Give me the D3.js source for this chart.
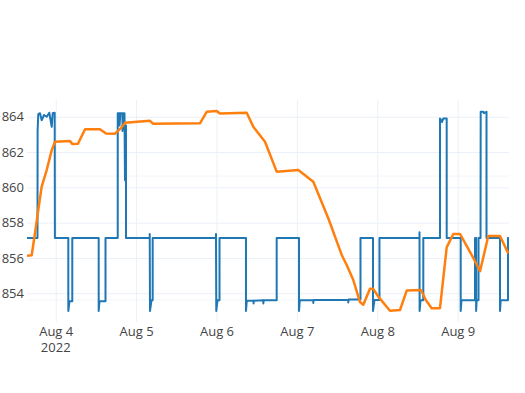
<!DOCTYPE html>
<html lang="en">
<head>
<meta charset="utf-8">
<title>Level chart</title>
<script src="https://d3js.org/d3.v7.min.js"></script>
<style>
body { margin: 0; background: #fff; }
.axis text, .yearlabel { font-family: "Open Sans", sans-serif; font-size: 13px; fill: #444; }
</style>
</head>
<body>
<svg id="chart" width="525" height="393"></svg>
<script>
// blue series: step-like readings (time, value)
var blueTimes = [
  "2022-08-03 15:26", "2022-08-03 18:34", "2022-08-03 18:36", "2022-08-03 18:48",
  "2022-08-03 19:19", "2022-08-03 19:49", "2022-08-03 20:31", "2022-08-03 21:19",
  "2022-08-03 22:05", "2022-08-03 22:49", "2022-08-03 23:06", "2022-08-03 23:42",
  "2022-08-03 23:46", "2022-08-04 03:46", "2022-08-04 03:46", "2022-08-04 04:07",
  "2022-08-04 04:57", "2022-08-04 04:57", "2022-08-04 12:50", "2022-08-04 12:50",
  "2022-08-04 13:04", "2022-08-04 14:52", "2022-08-04 14:52", "2022-08-04 18:31",
  "2022-08-04 18:31", "2022-08-04 19:03", "2022-08-04 19:03", "2022-08-04 19:20",
  "2022-08-04 19:56", "2022-08-04 19:56", "2022-08-04 20:14", "2022-08-04 20:32",
  "2022-08-04 20:41", "2022-08-04 20:45", "2022-08-04 20:59", "2022-08-04 20:59",
  "2022-08-05 04:04", "2022-08-05 04:04", "2022-08-05 04:09", "2022-08-05 04:36",
  "2022-08-05 04:57", "2022-08-05 04:57", "2022-08-05 23:51", "2022-08-05 23:51",
  "2022-08-05 23:56", "2022-08-06 00:18", "2022-08-06 00:54", "2022-08-06 00:54",
  "2022-08-06 08:48", "2022-08-06 08:48", "2022-08-06 09:03", "2022-08-06 11:04",
  "2022-08-06 11:04", "2022-08-06 11:10", "2022-08-06 13:59", "2022-08-06 13:59",
  "2022-08-06 14:05", "2022-08-06 17:58", "2022-08-06 17:58", "2022-08-07 00:38",
  "2022-08-07 00:38", "2022-08-07 00:52", "2022-08-07 04:54", "2022-08-07 04:54",
  "2022-08-07 05:00", "2022-08-07 15:20", "2022-08-07 15:20", "2022-08-07 15:26",
  "2022-08-07 18:59", "2022-08-07 18:59", "2022-08-07 22:43", "2022-08-07 22:43",
  "2022-08-07 23:10", "2022-08-08 00:39", "2022-08-08 00:39", "2022-08-08 12:36",
  "2022-08-08 12:36", "2022-08-08 12:38", "2022-08-08 12:54", "2022-08-08 13:44",
  "2022-08-08 13:44", "2022-08-08 18:43", "2022-08-08 18:43", "2022-08-08 19:20",
  "2022-08-08 19:40", "2022-08-08 20:43", "2022-08-08 20:43", "2022-08-09 00:54",
  "2022-08-09 00:54", "2022-08-09 01:08", "2022-08-09 05:10", "2022-08-09 05:10",
  "2022-08-09 05:30", "2022-08-09 05:30", "2022-08-09 05:40", "2022-08-09 06:13",
  "2022-08-09 06:13", "2022-08-09 06:49", "2022-08-09 06:52", "2022-08-09 07:40",
  "2022-08-09 07:50", "2022-08-09 08:36", "2022-08-09 08:36", "2022-08-09 12:38",
  "2022-08-09 12:38", "2022-08-09 12:50", "2022-08-09 15:01", "2022-08-09 15:01",
  "2022-08-09 15:19"
];
var blueValues = [
  857.13, 857.13, 863.2, 864.15,
  864.2, 863.8, 864.1, 864.0,
  864.23, 863.43, 864.2, 864.23,
  857.13, 857.13, 853.0, 853.55,
  853.55, 857.13, 857.13, 853.0,
  853.55, 853.55, 857.13, 857.13,
  864.2, 864.2, 863.5, 864.2,
  864.2, 863.2, 864.2, 864.2,
  860.4, 863.5, 863.5, 857.13,
  857.13, 857.35, 853.0, 853.6,
  853.6, 857.13, 857.13, 857.35,
  853.0, 853.6, 853.6, 857.13,
  857.13, 853.0, 853.58, 853.58,
  853.42, 853.58, 853.6, 853.42,
  853.6, 853.6, 857.13, 857.13,
  853.0, 853.6, 853.6, 853.45,
  853.62, 853.63, 853.48, 853.64,
  853.65, 857.13, 857.13, 853.0,
  853.62, 853.62, 857.13, 857.13,
  857.45, 853.0, 853.6, 853.6,
  857.13, 857.13, 863.9, 863.7,
  863.9, 863.9, 857.13, 857.13,
  853.0, 853.6, 853.6, 857.13,
  857.13, 853.0, 853.6, 853.6,
  857.13, 857.13, 864.28, 864.28,
  864.2, 864.28, 857.13, 857.13,
  853.0, 853.6, 853.6, 857.13,
  857.13
];

// orange series: smooth readings (time, value)
var orangeTimes = [
  "2022-08-03 15:26", "2022-08-03 16:50", "2022-08-03 17:49", "2022-08-03 18:48",
  "2022-08-03 19:49", "2022-08-03 21:19", "2022-08-03 22:49", "2022-08-03 23:47",
  "2022-08-04 04:16", "2022-08-04 05:01", "2022-08-04 06:39", "2022-08-04 08:45",
  "2022-08-04 13:13", "2022-08-04 15:01", "2022-08-04 17:42", "2022-08-04 19:24",
  "2022-08-04 20:41", "2022-08-05 04:09", "2022-08-05 05:08", "2022-08-05 19:04",
  "2022-08-05 21:05", "2022-08-06 00:04", "2022-08-06 01:03", "2022-08-06 09:01",
  "2022-08-06 10:59", "2022-08-06 14:29", "2022-08-06 17:58", "2022-08-07 00:25",
  "2022-08-07 04:54", "2022-08-07 09:22", "2022-08-07 13:23", "2022-08-07 14:52",
  "2022-08-07 16:50", "2022-08-07 18:50", "2022-08-07 19:49", "2022-08-07 21:49",
  "2022-08-07 22:48", "2022-08-08 00:18", "2022-08-08 03:47", "2022-08-08 06:47",
  "2022-08-08 08:47", "2022-08-08 13:03", "2022-08-08 14:31", "2022-08-08 16:14",
  "2022-08-08 18:43", "2022-08-08 20:43", "2022-08-08 22:41", "2022-08-09 00:41",
  "2022-08-09 04:40", "2022-08-09 06:40", "2022-08-09 09:08", "2022-08-09 12:38",
  "2022-08-09 15:06"
];
var orangeValues = [
  856.13, 856.15, 857.40, 858.72,
  860.04, 860.98, 862.11, 862.58,
  862.62, 862.45, 862.47, 863.29,
  863.29, 863.05, 863.04, 863.34,
  863.66, 863.77, 863.60, 863.63,
  864.28, 864.32, 864.19, 864.23,
  863.43, 862.58, 860.89, 860.98,
  860.32, 858.25, 856.17, 855.6,
  854.75, 853.5, 853.35, 854.25,
  854.25, 853.81, 853.01, 853.05,
  854.15, 854.18, 853.6, 853.15,
  853.15, 856.6, 857.36, 857.36,
  856.0, 855.25, 857.24, 857.24,
  856.26
];

var yTicks = [854, 856, 858, 860, 862, 864];
var faintLines = [860.64, 853.62];   // grid of the hidden second axis
var yRange = [852.37, 864.95];

var parseTime = d3.timeParse("%Y-%m-%d %H:%M");
var blue = blueTimes.map(function(t, i) { return {t: parseTime(t), v: blueValues[i]}; });
var orange = orangeTimes.map(function(t, i) { return {t: parseTime(t), v: orangeValues[i]}; });

var svg = d3.select("#chart"),
    margin = {top: 100, right: 16, bottom: 71, left: 27},
    width = +svg.attr("width") - margin.left - margin.right,
    height = +svg.attr("height") - margin.top - margin.bottom,
    g = svg.append("g").attr("transform", "translate(" + margin.left + "," + margin.top + ")");

var x = d3.scaleTime()
    .domain(d3.extent(blue, function(d) { return d.t; }))
    .range([0, width]);

var y = d3.scaleLinear()
    .domain(yRange)
    .range([height, 0]);

// faint grid of the overlaid axis
g.selectAll(".faint")
    .data(faintLines)
    .enter().append("line")
    .attr("x1", 0).attr("x2", width)
    .attr("y1", function(d) { return y(d); })
    .attr("y2", function(d) { return y(d); })
    .attr("stroke", "#f1f5fa")
    .attr("stroke-width", 1);

var days = d3.timeDay.range(d3.timeDay.ceil(x.domain()[0]), x.domain()[1]);

// x axis + vertical grid
var xAxis = g.append("g")
    .attr("class", "axis")
    .attr("transform", "translate(0," + height + ")")
    .call(d3.axisBottom(x).tickValues(days).tickSize(-height).tickFormat(d3.timeFormat("%b %-d")));
xAxis.select(".domain").remove();
xAxis.selectAll("line").attr("stroke", "#ebf0f8");
xAxis.selectAll("text").attr("y", 14).attr("dy", null);

// year under the first date
g.append("text")
    .attr("class", "yearlabel")
    .attr("x", x(days[0]))
    .attr("y", height + 30)
    .attr("text-anchor", "middle")
    .text("2022");

// y axis + horizontal grid
var yAxis = g.append("g")
    .attr("class", "axis")
    .call(d3.axisLeft(y).tickValues(yTicks).tickSize(-width).tickPadding(3).tickFormat(d3.format("d")));
yAxis.select(".domain").remove();
yAxis.selectAll("line").attr("stroke", "#ebf0f8");

var line = d3.line()
    .x(function(d) { return x(d.t); })
    .y(function(d) { return y(d.v); });

g.append("path")
    .datum(blue)
    .attr("fill", "none")
    .attr("stroke", "#1f77b4")
    .attr("stroke-width", 2)
    .attr("stroke-linejoin", "round")
    .attr("d", line);

g.append("path")
    .datum(orange)
    .attr("fill", "none")
    .attr("stroke", "#ff7f0e")
    .attr("stroke-width", 2.5)
    .attr("stroke-linejoin", "round")
    .attr("d", line);
</script>
</body>
</html>
